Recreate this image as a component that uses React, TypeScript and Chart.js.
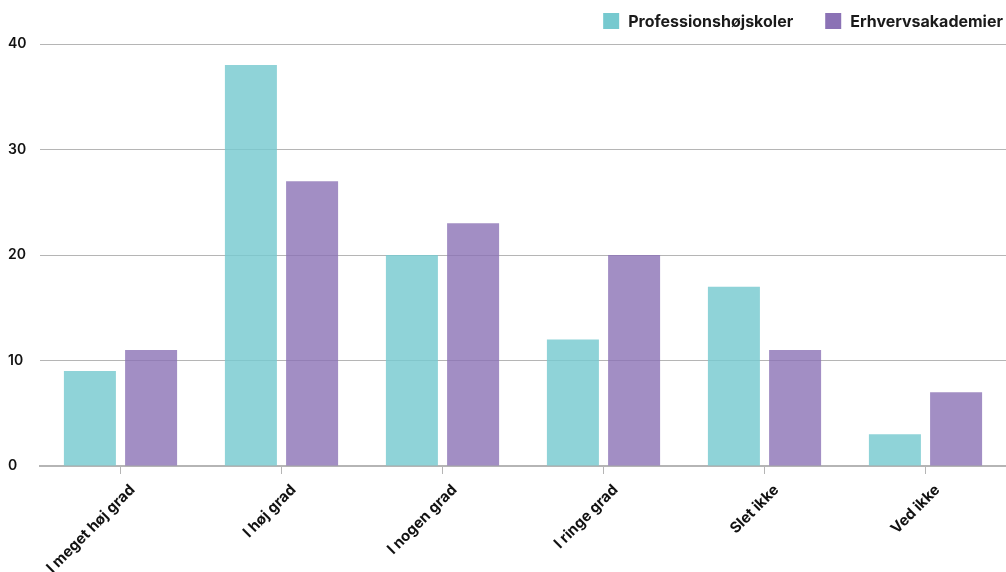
import React, { useEffect, useRef } from "react";
import { Chart, registerables } from "chart.js";

Chart.register(...registerables);

const categories = ["I meget høj grad", "I høj grad", "I nogen grad", "I ringe grad", "Slet ikke", "Ved ikke"];
const professionshojskoler = [9, 38, 20, 12, 17, 3];
const erhvervsakademier = [11, 27, 23, 20, 11, 7];
const seriesNames = ["Professionshøjskoler", "Erhvervsakademier"];
const legendColors = ["#76c9cf", "#8b72b5"];

const FONT = "Inter, 'Noto Sans', sans-serif";

const topLegend = {
  id: "topLegend",
  afterDraw(chart: any) {
    const ctx = chart.ctx as CanvasRenderingContext2D;
    ctx.save();
    ctx.font = `700 16px ${FONT}`;
    ctx.textBaseline = "middle";
    ctx.textAlign = "left";
    const box = 16;
    const gapText = 9;
    const gapItem = 32;
    const right = chart.width - 3;
    const widths = chart.data.datasets.map((d: any) => ctx.measureText(d.label).width);
    let total = 0;
    widths.forEach((w: number, i: number) => {
      total += box + gapText + w + (i > 0 ? gapItem : 0);
    });
    let x = right - total;
    const y = 21;
    chart.data.datasets.forEach((d: any, i: number) => {
      ctx.fillStyle = legendColors[i];
      ctx.fillRect(x, y - box / 2, box, box);
      x += box + gapText;
      ctx.fillStyle = "#1a1a1a";
      ctx.fillText(d.label, x, y + 1);
      x += widths[i] + gapItem;
    });
    ctx.restore();
  },
};

export default function App() {
  const ref = useRef<HTMLCanvasElement | null>(null);
  useEffect(() => {
    if (!ref.current) return;
    const chart = new Chart(ref.current, {
      type: "bar",
      data: {
        labels: categories,
        datasets: [
          {
            label: seriesNames[0],
            data: professionshojskoler,
            backgroundColor: "rgba(118, 201, 207, 0.82)",
            borderWidth: 0,
          },
          {
            label: seriesNames[1],
            data: erhvervsakademier,
            backgroundColor: "rgba(139, 114, 181, 0.8)",
            borderWidth: 0,
          },
        ],
      },
      plugins: [topLegend],
      options: {
        animation: false,
        responsive: false,
        maintainAspectRatio: false,
        layout: { padding: { top: 44, right: 0, left: 8, bottom: 0 } },
        datasets: { bar: { categoryPercentage: 0.76, barPercentage: 0.85 } },
        plugins: {
          tooltip: { enabled: false },
          legend: { display: false },
        },
        scales: {
          x: {
            grid: {
              drawOnChartArea: false,
              drawTicks: true,
              tickLength: 8,
              color: "#b5b5b5",
              offset: false,
            },
            border: { display: true, color: "#b5b5b5", width: 2 },
            ticks: {
              color: "#111",
              maxRotation: 45,
              minRotation: 45,
              labelOffset: 12,
              font: { family: FONT, size: 15, weight: 700 },
              padding: 7,
            },
            afterFit: (s: any) => {
              s.height = 106;
            },
          },
          y: {
            min: 0,
            max: 40,
            grid: { color: "#b5b5b5", lineWidth: 1, drawTicks: false },
            border: { display: false },
            ticks: {
              stepSize: 10,
              color: "#111",
              crossAlign: "far",
              padding: 8,
              font: { family: FONT, size: 14, weight: 600 },
            },
            afterFit: (s: any) => {
              s.width = 32;
            },
          },
        },
      },
    });
    return () => chart.destroy();
  }, []);
  return (
    <div style={{ position: "fixed", left: 0, top: 0, width: 1006, height: 572, background: "#fff" }}>
      <canvas ref={ref} width={1006} height={572} style={{ width: 1006, height: 572 }} />
    </div>
  );
}
